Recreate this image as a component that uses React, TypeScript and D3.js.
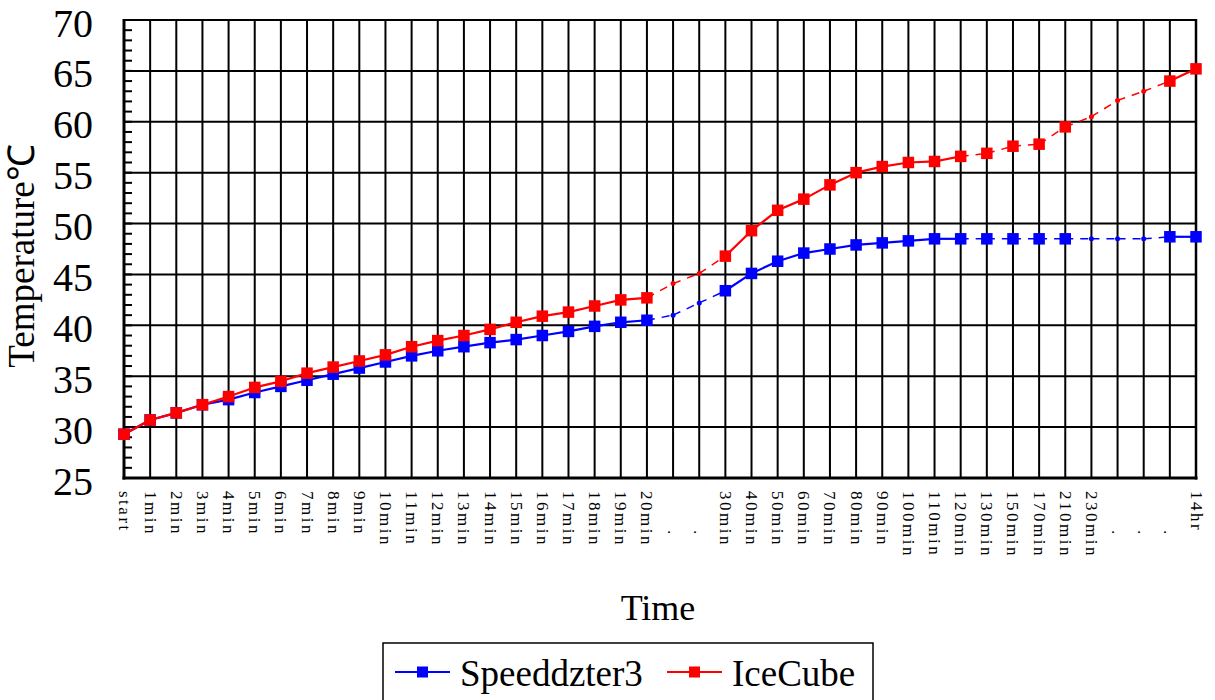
import React from "react";
import * as d3 from "d3";

const categories: string[] = [
  "start", "1min", "2min", "3min", "4min", "5min", "6min", "7min", "8min", "9min", "10min",
  "11min", "12min", "13min", "14min", "15min", "16min", "17min", "18min", "19min", "20min",
  ".", ".", "30min", "40min", "50min", "60min", "70min", "80min", "90min", "100min",
  "110min", "120min", "130min", "150min", "170min", "210min", "230min", ".", ".", ".", "14hr",
];

const speeddzter3: number[] = [
  29.3, 30.7, 31.4, 32.2, 32.7, 33.4, 34.0, 34.6, 35.2, 35.8, 36.4,
  37.0, 37.5, 37.9, 38.3, 38.6, 39.0, 39.4, 39.9, 40.3, 40.5,
  41.0, 42.2, 43.4, 45.1, 46.3, 47.1, 47.5, 47.9, 48.1, 48.3,
  48.5, 48.5, 48.5, 48.5, 48.5, 48.5, 48.5, 48.5, 48.5, 48.7, 48.7,
];

const iceCube: number[] = [
  29.3, 30.7, 31.4, 32.2, 33.0, 33.9, 34.5, 35.3, 35.9, 36.5, 37.1,
  37.9, 38.5, 39.0, 39.6, 40.3, 40.9, 41.3, 41.9, 42.5, 42.7,
  44.1, 45.1, 46.8, 49.3, 51.3, 52.4, 53.8, 55.0, 55.6, 56.0,
  56.1, 56.6, 56.9, 57.6, 57.8, 59.5, 60.5, 62.1, 63.0, 64.0, 65.2,
];

// indices drawn with a small dot instead of a square marker
const smallMarkerIdx: number[] = [21, 22, 37, 38, 39];
// segments (starting at index i) drawn dashed
const dashedSegStart: number[] = [20, 21, 22, 32, 33, 34, 35, 36, 37, 38, 39];

const yTicks: number[] = [25, 30, 35, 40, 45, 50, 55, 60, 65, 70];

const seriesList = [
  { name: "Speeddzter3", values: speeddzter3, color: "#0000FF" },
  { name: "IceCube", values: iceCube, color: "#FF0000" },
];

const W = 1215;
const H = 700;
const L = 124;
const R = 1196;
const T = 20;
const B = 478;

export default function App() {
  const x = d3.scalePoint<number>().domain(categories.map((_, i) => i)).range([L, R]);
  const y = d3.scaleLinear().domain([25, 70]).range([B, T]);
  const minor = d3.range(25, 71, 1);
  const serif = "'Liberation Serif', 'Times New Roman', serif";
  const MS = 11.5;

  return (
    <svg width={W} height={H} style={{ position: "absolute", left: 0, top: 0, background: "#fff" }}>
      <rect x={0} y={0} width={W} height={H} fill="#fff" />
      {yTicks.map((t) => (
        <line key={"h" + t} x1={L} x2={R} y1={y(t)} y2={y(t)} stroke="#000" strokeWidth={2} />
      ))}
      {categories.map((_, i) => (
        <line key={"v" + i} x1={x(i)} x2={x(i)} y1={T} y2={B} stroke="#000" strokeWidth={2} />
      ))}
      {minor.map((m) => (
        <line key={"m" + m} x1={L} x2={L + 8} y1={y(m)} y2={y(m)} stroke="#000" strokeWidth={2} />
      ))}
      <line x1={L} x2={L} y1={T - 1} y2={B + 1.5} stroke="#000" strokeWidth={3} />
      <line x1={L - 1.5} x2={R + 1.5} y1={B} y2={B} stroke="#000" strokeWidth={3} />
      <line x1={R} x2={R} y1={T - 1} y2={B + 1.5} stroke="#000" strokeWidth={2.5} />
      <line x1={L} x2={R} y1={T} y2={T} stroke="#000" strokeWidth={2} />

      {yTicks.map((t) => (
        <text key={"yl" + t} x={93} y={y(t) + 3} textAnchor="end" dominantBaseline="central"
          fontFamily={serif} fontSize={40} fill="#000">{t}</text>
      ))}
      {categories.map((c, i) => (
        <text key={"xl" + i}
          transform={`translate(${x(i)},${c === "." ? 530 : 491}) rotate(90)`}
          textAnchor="start" dominantBaseline="central"
          fontFamily={serif} fontSize={17} letterSpacing={2.5} fill="#000">{c}</text>
      ))}

      <text transform={`translate(34,256) rotate(-90)`} textAnchor="middle"
        fontFamily={serif} fontSize={37} fill="#000">Temperature℃</text>
      <text x={658} y={620} textAnchor="middle" fontFamily={serif} fontSize={36} fill="#000">Time</text>

      {seriesList.map((s) => (
        <g key={s.name}>
          {s.values.slice(0, -1).map((v, i) => {
            const dashed = dashedSegStart.includes(i);
            return (
              <line key={"s" + i} x1={x(i)} y1={y(v)} x2={x(i + 1)} y2={y(s.values[i + 1])}
                stroke={s.color} strokeWidth={dashed ? 1.5 : 2.2}
                strokeDasharray={dashed ? "8,7" : undefined} />
            );
          })}
          {s.values.map((v, i) =>
            smallMarkerIdx.includes(i) ? (
              <circle key={"p" + i} cx={x(i)} cy={y(v)} r={2.5} fill={s.color} />
            ) : (
              <rect key={"p" + i} x={(x(i) as number) - MS / 2} y={y(v) - MS / 2} width={MS} height={MS}
                fill={s.color} />
            )
          )}
        </g>
      ))}

      <rect x={383} y={643} width={490} height={60} fill="#fff" stroke="#000" strokeWidth={1.5} />
      {seriesList.map((s, k) => {
        const lx = k === 0 ? 395 : 667;
        const tx = k === 0 ? 460 : 732;
        return (
          <g key={"lg" + s.name}>
            <line x1={lx} x2={lx + 55} y1={672} y2={672} stroke={s.color} strokeWidth={2} />
            <rect x={lx + 27.5 - 5.5} y={672 - 5.5} width={11} height={11} fill={s.color} />
            <text x={tx} y={686} fontFamily={serif} fontSize={37} fill="#000">{s.name}</text>
          </g>
        );
      })}
    </svg>
  );
}
